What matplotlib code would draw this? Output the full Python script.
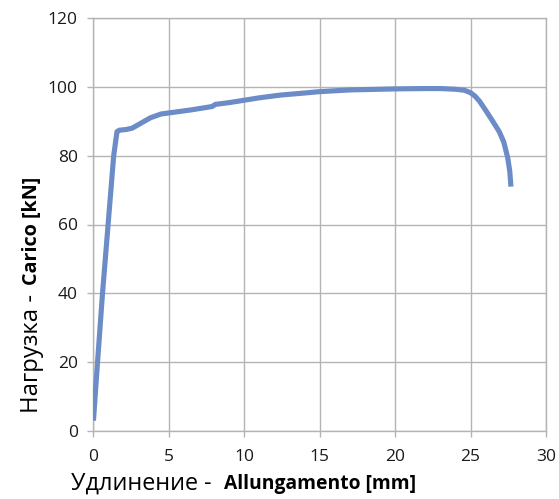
import matplotlib
matplotlib.use("Agg")
import matplotlib.pyplot as plt

# dati
allungamento = [0.03, 0.3, 0.63, 1.0, 1.37, 1.59, 1.75, 2.2, 2.6, 3.2, 3.8, 4.5,
                5.5, 6.5, 7.5, 7.9, 8.1, 9, 10, 11, 12.4, 14, 15, 17, 19, 20, 22,
                23, 24, 24.6, 25, 25.3, 25.6, 26.0, 26.4, 26.9, 27.2, 27.46, 27.6, 27.68]
carico = [3, 20, 40, 60, 80, 87, 87.4, 87.6, 88, 89.5, 91, 92.1,
          92.7, 93.3, 94, 94.3, 94.9, 95.4, 96.1, 96.8, 97.6, 98.2, 98.6, 99.1, 99.3, 99.4, 99.5,
          99.5, 99.3, 99.0, 98.3, 97.3, 95.8, 93.2, 90.5, 87.0, 84.0, 79.5, 75.5, 71]
x_ticks = [0, 5, 10, 15, 20, 25, 30]
y_ticks = [0, 20, 40, 60, 80, 100, 120]

plt.rcParams['font.family'] = ['Open Sans', 'DejaVu Sans']

W, H = 559, 499
fig = plt.figure(figsize=(W / 100, H / 100), dpi=100, facecolor="white")
ax = fig.add_axes([93 / W, 1 - 431 / H, (546 - 93) / W, (431 - 18) / H])

grigio = "#b4b4b4"
ax.plot(allungamento, carico, color="#6b8cc6", lw=3.7, solid_joinstyle="round",
        solid_capstyle="butt", zorder=3)

ax.set_xlim(0, 30)
ax.set_ylim(0, 120)
ax.set_xticks(x_ticks)
ax.set_yticks(y_ticks)
ax.grid(True, color=grigio, lw=1)
for s in ax.spines.values():
    s.set_color(grigio)
    s.set_linewidth(1)
ax.tick_params(axis="both", color=grigio, length=4, width=1, labelsize=12.5,
               labelcolor="#1a1a1a")
ax.tick_params(axis="x", pad=9)
ax.tick_params(axis="y", pad=7)

# etichette con parte in grassetto
fig.canvas.draw()
r = fig.canvas.get_renderer()

t1 = fig.text(71 / W, 1 - 484 / H, "Удлинение -", fontsize=16.8, ha="left", va="center")
e1 = t1.get_window_extent(r)
fig.text((e1.x1 + 12) / W, 1 - 484 / H, "Allungamento [mm]", fontsize=13.9,
         fontweight="bold", ha="left", va="center")

t2 = fig.text(32 / W, 1 - 413 / H, "Нагрузка -", fontsize=17.2, rotation=90,
              rotation_mode="anchor", ha="left", va="center")
e2 = t2.get_window_extent(r)
fig.text(32 / W, (e2.y1 + 9) / H, "Carico [kN]", fontsize=14.2, fontweight="bold",
         rotation=90, rotation_mode="anchor", ha="left", va="center")

fig.savefig("out.png", dpi=100, facecolor="white")
